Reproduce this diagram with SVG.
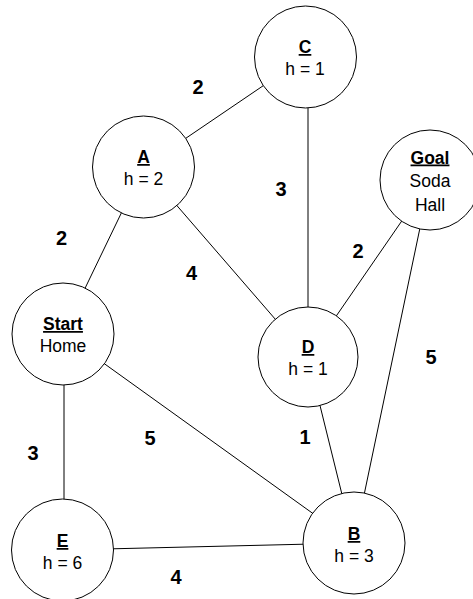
<svg xmlns="http://www.w3.org/2000/svg" width="473" height="599" viewBox="0 0 473 599">
<style>
.edge{stroke:#000;stroke-width:1;fill:none}
.node{fill:#fff;stroke:#000;stroke-width:1}
.t{font-family:"Liberation Sans",Arial,sans-serif;font-size:17.5px;fill:#000;text-anchor:middle}
.b{font-weight:bold;text-decoration:underline}
.w{font-family:"Liberation Sans",Arial,sans-serif;font-size:20px;font-weight:bold;fill:#000;text-anchor:middle}
</style>
<rect width="473" height="599" fill="#fff"/>
<g id="connectors">
<line class="edge" x1="143.5" y1="167" x2="305.5" y2="57"/>
<line class="edge" x1="308" y1="57" x2="308" y2="357"/>
<line class="edge" x1="143.5" y1="167" x2="308" y2="357"/>
<line class="edge" x1="143.5" y1="167" x2="63" y2="334"/>
<line class="edge" x1="430" y1="180" x2="308" y2="357"/>
<line class="edge" x1="430" y1="180" x2="354" y2="543"/>
<line class="edge" x1="63" y1="334" x2="354" y2="543"/>
<line class="edge" x1="64" y1="334" x2="64" y2="550"/>
<line class="edge" x1="308" y1="357" x2="354" y2="543"/>
<line class="edge" x1="62.5" y1="550" x2="354" y2="543"/>
</g>
<g id="edge-labels">
<text class="w" x="198" y="94">2</text>
<text class="w" x="281" y="196">3</text>
<text class="w" x="61.5" y="245">2</text>
<text class="w" x="191.5" y="280">4</text>
<text class="w" x="358" y="258">2</text>
<text class="w" x="431" y="364">5</text>
<text class="w" x="305" y="444">1</text>
<text class="w" x="150" y="445">5</text>
<text class="w" x="33" y="460">3</text>
<text class="w" x="176" y="584">4</text>
</g>
<g id="node-C">
<circle class="node" cx="305.5" cy="57" r="51"/>
<text class="t b" x="305" y="53">C</text>
<text class="t" x="305" y="75">h = 1</text>
</g>
<g id="node-A">
<circle class="node" cx="143.5" cy="167" r="51"/>
<text class="t b" x="143.5" y="163">A</text>
<text class="t" x="143.5" y="185">h = 2</text>
</g>
<g id="node-Goal">
<circle class="node" cx="430" cy="180" r="50"/>
<text class="t b" x="430" y="163.5">Goal</text>
<text class="t" x="430" y="187">Soda</text>
<text class="t" x="430" y="210.5">Hall</text>
</g>
<g id="node-Start">
<circle class="node" cx="63" cy="334" r="51"/>
<text class="t b" x="63" y="330">Start</text>
<text class="t" x="63" y="352">Home</text>
</g>
<g id="node-D">
<circle class="node" cx="308" cy="357" r="50"/>
<text class="t b" x="308" y="353">D</text>
<text class="t" x="308" y="375">h = 1</text>
</g>
<g id="node-E">
<circle class="node" cx="62.5" cy="550" r="51"/>
<text class="t b" x="62.5" y="547">E</text>
<text class="t" x="62.5" y="569">h = 6</text>
</g>
<g id="node-B">
<circle class="node" cx="354" cy="543" r="51"/>
<text class="t b" x="354" y="540">B</text>
<text class="t" x="354" y="562">h = 3</text>
</g>
</svg>
